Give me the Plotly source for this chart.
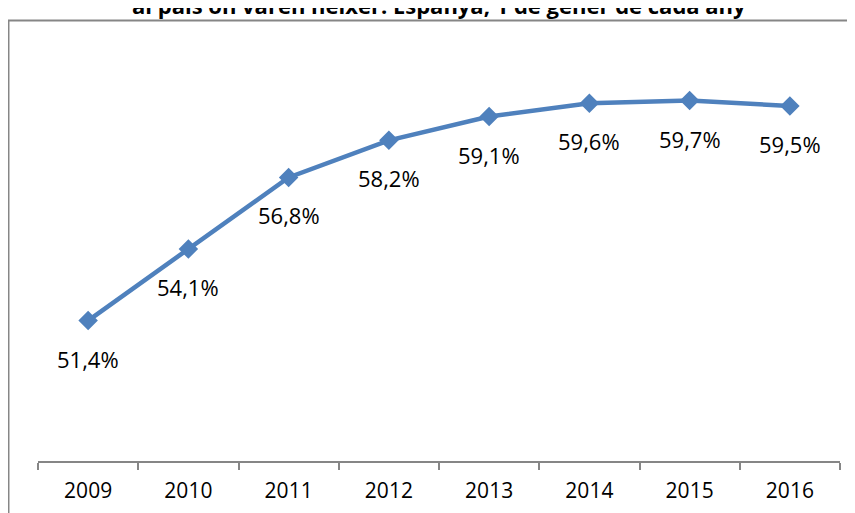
import plotly.graph_objs as go

# data
anys = ["2009", "2010", "2011", "2012", "2013", "2014", "2015", "2016"]
percentatge = [51.4, 54.1, 56.8, 58.2, 59.1, 59.6, 59.7, 59.5]
titol = "al país on varen néixer. Espanya, 1 de gener de cada any"

blau = "#4F81BD"
gris = "#868686"
font_txt = "Open Sans, Liberation Sans, sans-serif"

line = go.Scatter(
    x=anys,
    y=percentatge,
    mode="lines+markers",
    line=dict(color=blau, width=4.5),
    marker=dict(symbol="diamond", size=15, color=blau),
    showlegend=False,
    hoverinfo="skip",
)

# data labels under each point (x given as category index)
etiquetes = []
for i, v in enumerate(percentatge):
    etiquetes.append(dict(
        x=i, y=v, xref="x", yref="y",
        text=f"{v:.1f}%".replace(".", ","),
        showarrow=False, yshift=-38,
        font=dict(family=font_txt, size=22, color="#000000"),
    ))

# title: like the reference, only its lower part is inside the window
etiquetes.append(dict(
    x=0.5, y=1.0743, xref="paper", yref="paper",
    text="<b>" + titol + "</b>", showarrow=False,
    xanchor="center", yanchor="middle",
    font=dict(family=font_txt, size=22, color="#000000"),
))

layout = go.Layout(
    width=855,
    height=513,
    margin=dict(l=30, r=23, t=29, b=60),
    paper_bgcolor="white",
    plot_bgcolor="white",
    xaxis=dict(
        type="category",
        showline=True, linecolor=gris, linewidth=1.5,
        ticks="outside", tickson="boundaries", ticklen=7, tickcolor=gris, tickwidth=1.5,
        tickfont=dict(family=font_txt, size=21, color="#000000"),
        ticklabelstandoff=10,
        showgrid=False, zeroline=False,
        range=[-0.5, 7.5],
    ),
    yaxis=dict(range=[46.1, 62.1], visible=False, showgrid=False, zeroline=False),
    annotations=etiquetes,
    shapes=[dict(
        type="rect", xref="paper", yref="paper",
        x0=-0.0368, x1=1.04, y0=-0.2, y1=1.0389,
        line=dict(color=gris, width=2), layer="below",
    )],
)

fig = go.Figure(data=[line], layout=layout)
fig.write_html("out.html")
